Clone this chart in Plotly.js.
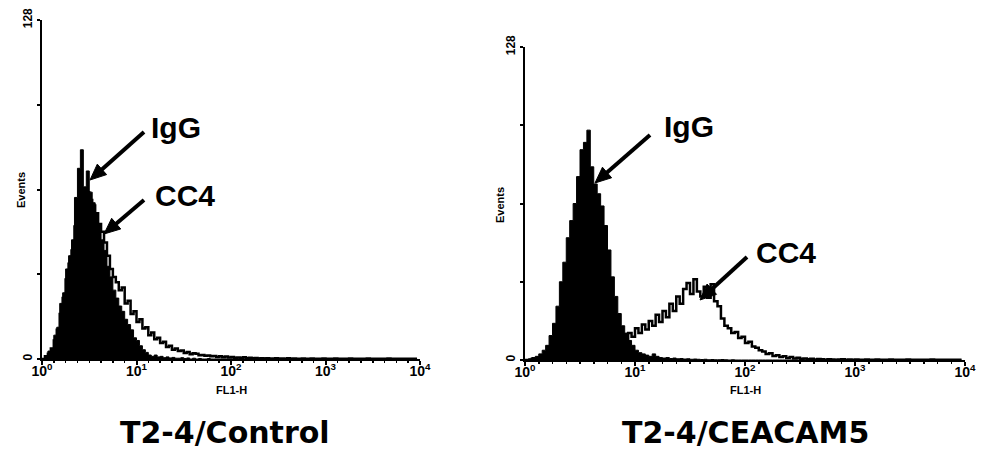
<!DOCTYPE html>
<html>
<head>
<meta charset="utf-8">
<script src="https://cdn.plot.ly/plotly-3.0.1.min.js"></script>
<style>html,body{margin:0;padding:0;background:#fff;}#chart{width:991px;height:459px;}</style>
</head>
<body>
<div id="chart"></div>
<script>
// FL1-H channel (0..1024 = 10^0..10^4), bins of 8 channels
const channels = [0,8,16,24,32,40,48,56,64,72,80,88,96,104,112,120,128,136,144,152,160,168,176,184,192,200,208,216,224,232,240,248,256,264,272,280,288,296,304,312,320,328,336,344,352,360,368,376,384,392,400,408,416,424,432,440,448,456,464,472,480,488,496,504,512,520,528,536,544,552,560,568,576,584,592,600,608,616,624,632,640,648,656,664,672,680,688,696,704,712,720,728,736,744,752,760,768,776,784,792,800,808,816,824,832,840,848,856,864,872,880,888,896,904,912,920,928,936,944,952,960,968,976,984,992,1000,1008,1016];

const tickChannels = [0,256,512,768,1024];
const tickLabels = ['10<sup>0</sup>','10<sup>1</sup>','10<sup>2</sup>','10<sup>3</sup>','10<sup>4</sup>'];
const countTicks = [0,128];
const countLabels = ['0','128'];

// T2-4/Control
const controlIgG = [0,1,3,4,9,12,21,25,34,39,45,61,72,79,65,71,63,59,55,51,45,41,35,31,26,23,20,18,15,13,11,8,7,5,3.5,2.5,1.5,1,1.5,0.8,1,0.5,0.8,0.4,0.6,0.3,0.3,0.5,0.2,0.4,0,0.3,0,0.2,0,0,0.2,0,0,0,0,0,0,0,0,0,0,0,0,0,0,0,0,0,0,0,0,0,0,0,0,0,0,0,0,0,0,0,0,0,0,0,0,0,0,0,0,0,0,0,0,0,0,0,0,0,0,0,0,0,0,0,0,0,0,0,0,0,0,0,0,0,0,0,0,0,0,0];
const controlCC4 = [0,1,2,4,7,11,17,23,30,36,41,50,58,64,61,63,60,58,55,51,48,44,39,34,31,29,26,27,21,22,17,18,14,15,11.5,12,9,10,7.5,8,6,6.5,4.5,5,3.5,4,3,3.2,2.3,2.6,1.8,2.2,2,1.4,1.5,1.2,1.3,1,1.1,0.8,1,0.7,0.9,0.6,0.8,0.5,0.6,0.4,0.7,0.3,0.5,0.3,0.4,0.2,0.3,0.2,0.3,0.1,0.2,0.3,0.1,0.2,0.1,0.3,0.1,0.2,0.1,0.1,0.2,0.1,0.1,0.2,0.1,0.1,0.1,0.2,0.1,0.1,0.1,0.2,0.1,0.1,0.1,0.1,0.2,0.1,0.1,0.1,0.1,0.1,0.2,0.1,0.1,0.1,0.1,0.1,0.1,0.2,0.1,0.1,0.1,0.1,0.1,0.1,0.1,0.1,0.1,0.1];

// T2-4/CEACAM5
const ceacamIgG = [0,0.5,1,1.5,2.5,4,6,10,15,22,32,40,50,57,64,75,86,89,94,79,72,68,63,55,45,34,26,19,14,11,8,6,4,3,2.5,2,1.5,2.5,1.5,1,0.8,1,0.6,0.8,0.5,0.6,0.4,0.5,0.3,0.4,0.3,0.2,0.3,0.1,0.2,0.1,0.1,0.2,0.1,0,0.1,0,0,0,0,0,0,0,0,0,0,0,0,0,0,0,0,0,0,0,0,0,0,0,0,0,0,0,0,0,0,0,0,0,0,0,0,0,0,0,0,0,0,0,0,0,0,0,0,0,0,0,0,0,0,0,0,0,0,0,0,0,0,0,0,0,0,0];
const ceacamCC4 = [0,0,0.5,0.5,1,1,1.5,1.5,2,2,2.5,2.5,3,3,3.5,3.5,4,4,4.5,4.5,5,5,5.5,5.5,6,6.5,6.5,7,7.5,8,11,9.5,13,11,14.5,12.5,16,14,18.5,15.5,20,17.5,23,20,26,23,29,31.5,27,33,28,26,30,25.5,31,24,22,17,14,13,11,11.5,9,9.5,7,7.5,5.5,5,4,3.5,2.5,2.8,1.6,1.9,1.2,1.5,0.8,1.2,0.6,0.9,0.5,0.6,0.3,0.5,0.2,0.4,0.3,0.1,0.3,0.2,0.1,0.2,0.3,0.1,0.2,0.1,0.2,0.1,0.1,0.2,0.1,0.1,0.2,0.1,0.1,0.1,0.2,0.1,0.1,0.1,0.1,0.2,0.1,0.1,0.1,0.1,0.1,0.1,0.2,0.1,0.1,0.1,0.1,0.1,0.1,0.1,0.1,0.1];

function filled(y, xa, ya){
  return {x: channels, y: y, xaxis: xa, yaxis: ya, type: 'scatter', mode: 'lines',
    line: {shape: 'hv', color: '#000', width: 1}, fill: 'tozeroy', fillcolor: '#000', hoverinfo: 'skip'};
}
function outline(y, xa, ya){
  return {x: channels, y: y, xaxis: xa, yaxis: ya, type: 'scatter', mode: 'lines',
    line: {shape: 'hv', color: '#000', width: 2.5}, hoverinfo: 'skip'};
}

const data = [
  filled(controlIgG, 'x', 'y'), outline(controlCC4, 'x', 'y'),
  filled(ceacamIgG, 'x2', 'y2'), outline(ceacamCC4, 'x2', 'y2')
];

function xAxis(domain, anchor){
  return {domain: domain, anchor: anchor, range: [0, 1024], tickmode: 'array', tickvals: tickChannels, ticktext: tickLabels,
    ticks: 'outside', ticklen: 4, tickwidth: 2, tickcolor: '#000', showline: true, linewidth: 2, linecolor: '#000',
    showgrid: false, zeroline: false, fixedrange: true, ticklabelstandoff: -6,
    tickfont: {family: 'Liberation Sans', size: 14, color: '#000', weight: 'bold'},
    minor: {ticks: 'outside', dtick: 32, tick0: 0, ticklen: 2, tickwidth: 1.5, tickcolor: '#000', showgrid: false}};
}
function yAxis(domain, anchor){
  return {domain: domain, anchor: anchor, range: [0, 128], tickmode: 'array', tickvals: countTicks, ticktext: countLabels,
    tickangle: -90, ticks: 'outside', ticklen: 3, tickwidth: 2, tickcolor: '#000', showline: true, linewidth: 2, linecolor: '#000',
    showgrid: false, zeroline: false, fixedrange: true,
    tickfont: {family: 'Liberation Sans', size: 12, color: '#000', weight: 'bold'},
    minor: {ticks: 'outside', dtick: 32, tick0: 0, ticklen: 3, tickwidth: 2, tickcolor: '#000', showgrid: false}};
}

const W = 991, H = 459;
const px = v => v / W, py = v => 1 - v / H;
const lblFont = {family: 'Liberation Sans', size: 30, color: '#000'};
const smallFont = {family: 'Liberation Sans', size: 11, color: '#000'};
const titleFont = {family: 'DejaVu Sans', size: 30, color: '#000'};

function label(text, cx, cy, font, angle){
  return {xref: 'paper', yref: 'paper', x: px(cx), y: py(cy), xanchor: 'center', yanchor: 'middle',
    text: text, showarrow: false, font: font, textangle: angle || 0};
}
// arrow as shapes: shaft + filled triangular head (pixel positions converted to paper)
function arrowShapes(tx, ty, hx, hy){
  const dx = hx - tx, dy = hy - ty, L = Math.hypot(dx, dy);
  const ux = dx / L, uy = dy / L, nx = -uy, ny = ux;
  const headL = 16, headW = 7;
  const bx = hx - ux * headL, by = hy - uy * headL;
  const p = (x, y) => px(x).toFixed(5) + ',' + py(y).toFixed(5);
  return [
    {type: 'line', xref: 'paper', yref: 'paper', x0: px(tx), y0: py(ty), x1: px(bx + ux * 2), y1: py(by + uy * 2),
      line: {color: '#000', width: 4}},
    {type: 'path', xref: 'paper', yref: 'paper',
      path: 'M' + p(hx, hy) + 'L' + p(bx + nx * headW, by + ny * headW) + 'L' + p(bx - nx * headW, by - ny * headW) + 'Z',
      fillcolor: '#000', line: {color: '#000', width: 1}}
  ];
}

const layout = {
  width: W, height: H, margin: {l: 0, r: 0, t: 0, b: 0},
  paper_bgcolor: '#fff', plot_bgcolor: '#fff', showlegend: false,
  xaxis: xAxis([px(42), px(420)], 'y'),
  yaxis: yAxis([py(359), py(20)], 'x'),
  xaxis2: xAxis([px(525), px(965)], 'y2'),
  yaxis2: yAxis([py(360), py(47)], 'x2'),
  shapes: [].concat(
    arrowShapes(144, 132, 90, 180),
    arrowShapes(144, 200, 104, 234),
    arrowShapes(650, 135, 595, 183),
    arrowShapes(747, 257, 700, 300)
  ),
  annotations: [
    label('<b>IgG</b>', 176, 128, lblFont),
    label('<b>CC4</b>', 185, 196, lblFont),
    label('<b>IgG</b>', 689, 126, lblFont),
    label('<b>CC4</b>', 786, 252, lblFont),
    label('<b>Events</b>', 21, 190, smallFont, -90),
    label('<b>Events</b>', 500, 205, smallFont, -90),
    label('<b>FL1-H</b>', 231, 390, smallFont),
    label('<b>FL1-H</b>', 745, 390, smallFont),
    label('<b>T2-4/Control</b>', 225, 432, titleFont),
    label('<b>T2-4/CEACAM5</b>', 745, 432, titleFont)
  ]
};

Plotly.newPlot('chart', data, layout, {staticPlot: true, displayModeBar: false});
</script>
</body>
</html>
